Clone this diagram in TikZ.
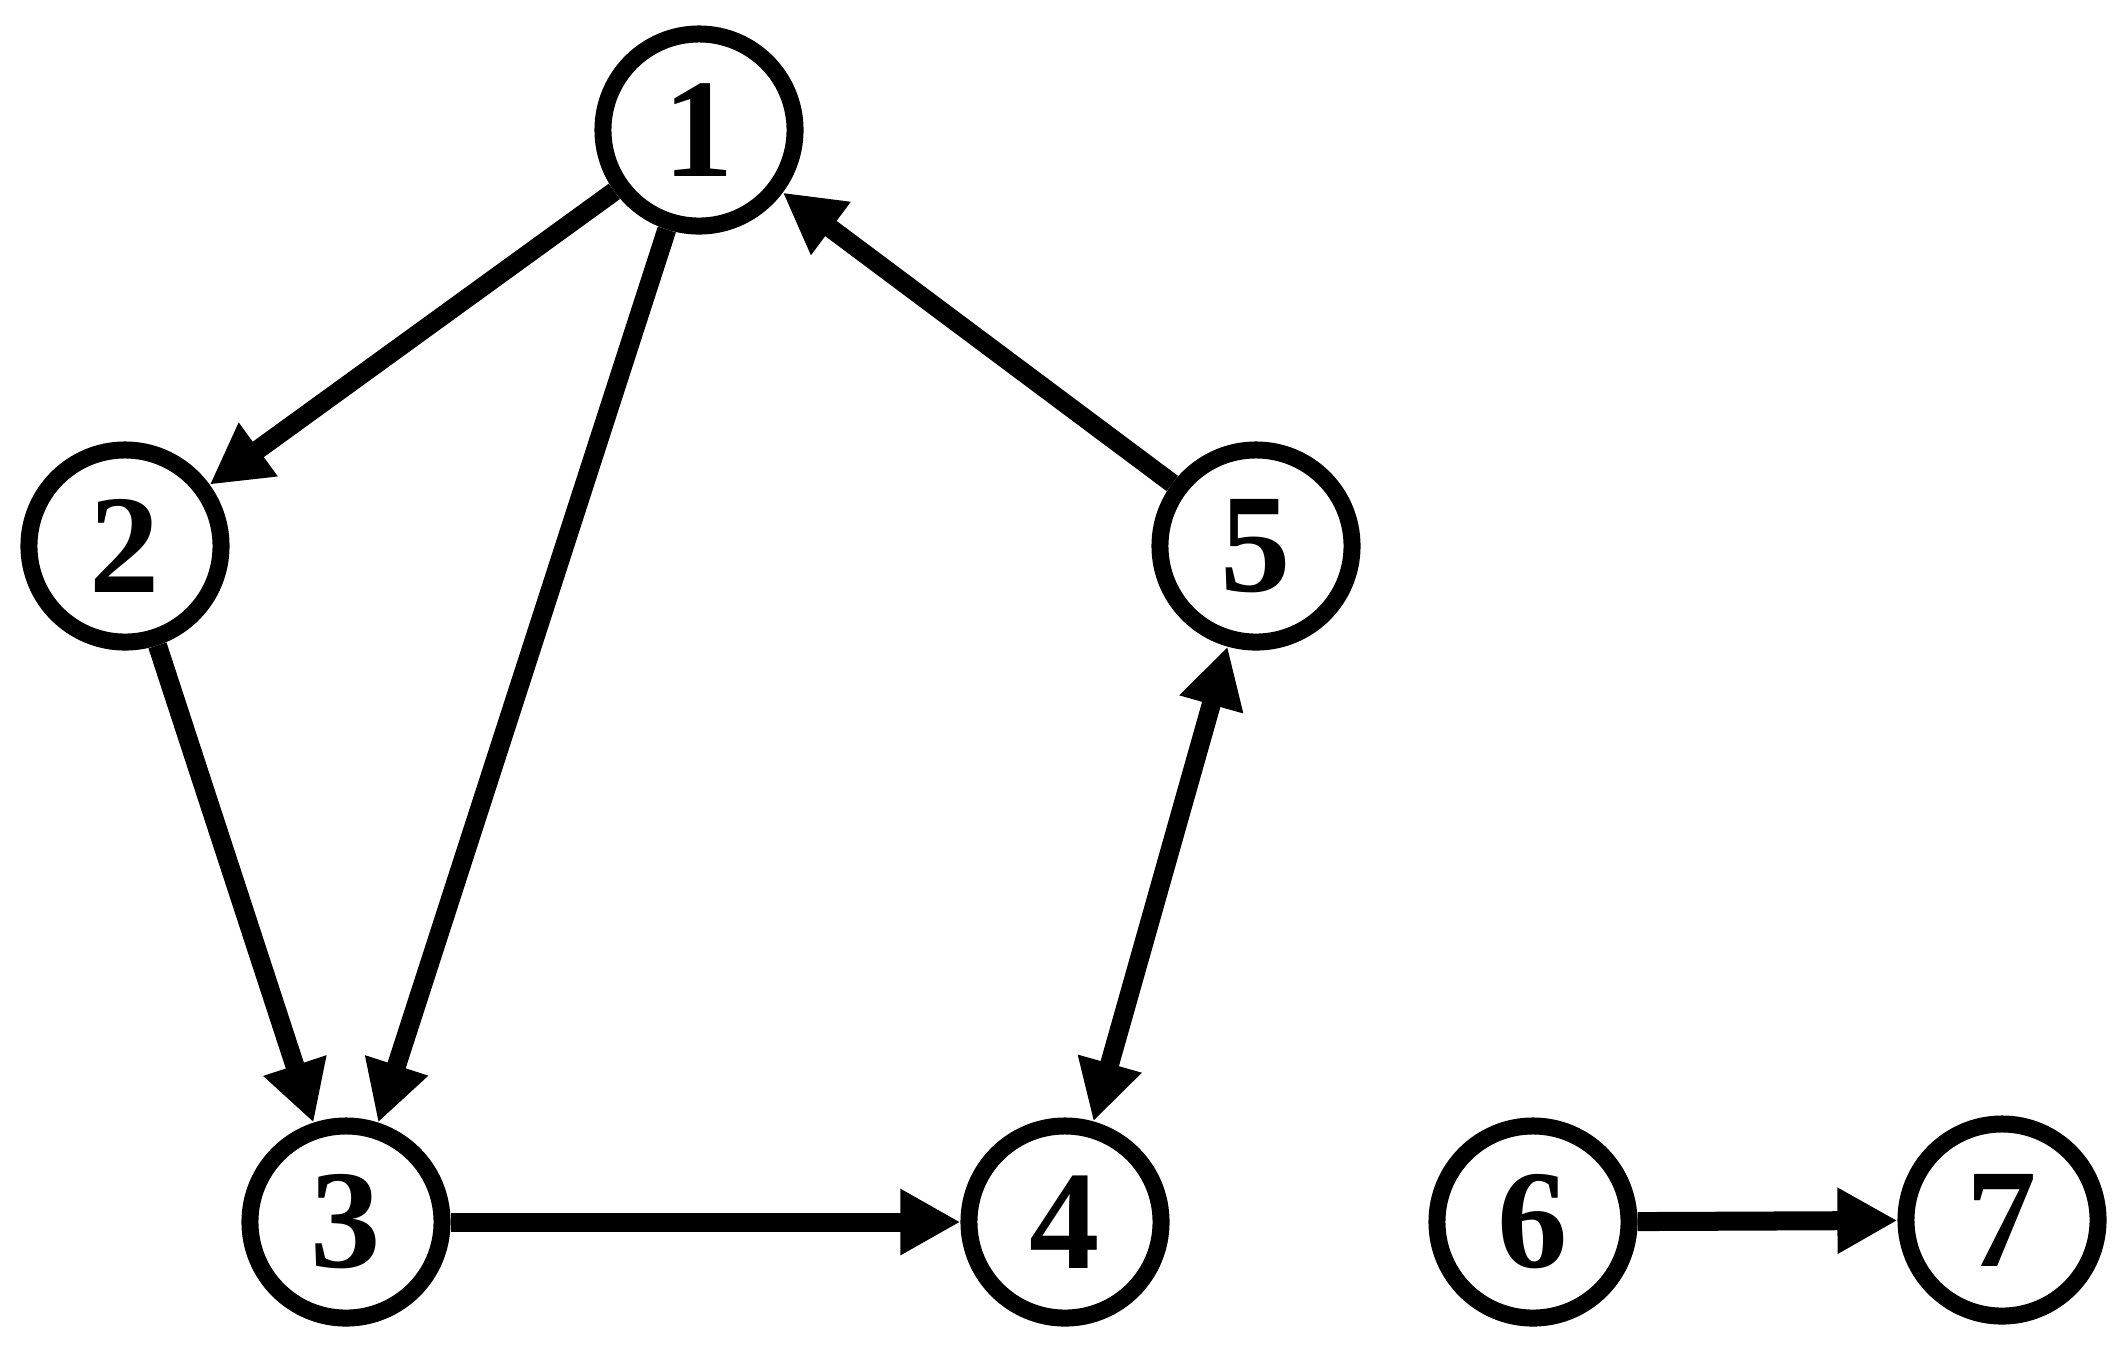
\documentclass[tikz,border=0pt]{standalone}
\usepackage{fontspec}
\setmainfont{LiberationSerif}[Extension=.ttf, UprightFont=*-Regular, BoldFont=*-Bold]
\usetikzlibrary{arrows.meta}

\begin{document}
\begin{tikzpicture}[
        x=0.01cm, y=-0.01cm,
        >={Triangle[length=0.6cm, width=0.62cm]},
        every node/.style={font=\bfseries\fontsize{40}{42}\selectfont},
        vertex/.style={circle, draw, line width=0.17cm, minimum size=1.92cm, inner sep=0pt}
    ]
    \useasboundingbox (0,0) rectangle (2121,1353);
    \node[vertex] (v1) at (699,130) {1};
    \node[vertex] (v2) at (125,546) {2};
    \node[vertex] (v3) at (346,1222) {3};
    \node[vertex] (v4) at (1065,1222) {4};
    \node[vertex] (v5) at (1256,546) {5};
    \node[vertex] (v6) at (1533,1222) {6};
    \node[vertex] (v7) at (2002,1220) {7};
    \draw[->, line width=0.19cm] (v1) -- (v2);
    \draw[->, line width=0.19cm] (v1) -- (v3);
    \draw[->, line width=0.19cm] (v2) -- (v3);
    \draw[->, line width=0.19cm] (v3) -- (v4);
    \draw[->, line width=0.19cm] (v5) -- (v1);
    \draw[<->, line width=0.19cm] (v4) -- (v5);
    \draw[->, line width=0.19cm] (v6) -- (v7);
\end{tikzpicture}
\end{document}
